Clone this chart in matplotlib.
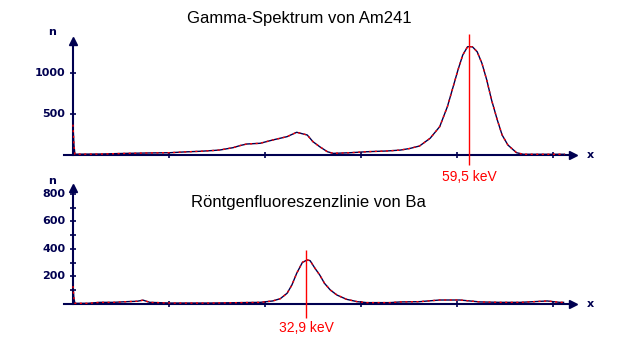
import numpy as np
import matplotlib.pyplot as plt

NAVY = '#000050'
RED = '#ff0000'

# Am241 gamma spectrum: channel number vs. counts
am_channel = [0, 1, 2, 28, 56, 80, 101, 117, 132, 146, 153, 167, 174, 181, 195,
              208, 223, 233, 244, 250, 257, 265, 271, 289, 306, 327, 341, 351,
              361, 372, 382, 390, 396, 401, 406, 411, 416, 421, 426, 431, 436,
              442, 447, 453, 462, 469, 494, 512]
am_counts = [370, 120, 10, 12, 20, 25, 28, 38, 45, 55, 61, 90, 115, 134, 143,
             183, 224, 277, 244, 162, 101, 40, 20, 28, 40, 49, 60, 80,
             110, 204, 346, 590, 833, 1037, 1220, 1321, 1321, 1260, 1118, 915, 671,
             427, 244, 122, 28, 9, 9, 9]
am_peak_channel = 412.5
am_peak_label = '59,5 keV'

# Ba X-ray fluorescence spectrum
ba_channel = [0, 1, 2, 15, 28, 42, 56, 67, 73, 80, 101, 143, 174, 195, 208,
              216, 223, 228, 233, 239, 244, 247, 252, 257, 262, 268, 275, 285,
              296, 306, 330, 341, 361, 382, 403, 424, 445, 466, 494, 507, 511]
ba_counts = [130, 40, 5, 5, 12, 12, 17, 20, 28, 12, 7, 7, 10, 12, 22,
             39, 78, 138, 223, 303, 320, 315, 260, 211, 150, 102, 65, 34,
             17, 10, 10, 15, 17, 29, 29, 15, 12, 12, 22, 12, 12]
ba_peak_channel = 242.7
ba_peak_label = '32,9 keV'

x_ticks = [100, 200, 300, 400, 500]
top_major = [500, 1000]
bottom_major = [200, 400, 600, 800]
bottom_minor = [100, 300, 500, 700]

fig = plt.figure(figsize=(6.4, 3.5), dpi=100)
W, H = 640, 350


def make_axes(top_px, bottom_px, ylim):
    ax = fig.add_axes([60 / W, 1 - bottom_px / H, 540 / W, (bottom_px - top_px) / H])
    ax.set_xlim(-13.54, 548.96)
    ax.set_ylim(*ylim)
    ax.set_axis_off()
    return ax


def draw_frame(ax, y_top, major, minor):
    # x axis with arrow head and "x" label
    ax.plot([-9.4, 520], [0, 0], color=NAVY, lw=1.5, clip_on=False, zorder=3)
    ax.plot([521], [0], marker='>', ms=6, color=NAVY, clip_on=False, zorder=3)
    ax.text(539, 0, 'x', color=NAVY, fontsize=8, fontweight='bold',
            ha='center', va='center')
    ax.plot(x_ticks, [0] * len(x_ticks), ls='none', marker='|', ms=5, mew=1.2,
            color=NAVY, clip_on=False, zorder=3)
    # y axis
    ax.plot([0, 0], [0, y_top], color=NAVY, lw=1.5, clip_on=False, zorder=3)
    ax.plot([0], [y_top], marker='^', ms=6, color=NAVY, clip_on=False, zorder=3)
    ticks = major + minor
    ax.plot([0] * len(ticks), ticks, ls='none', marker='_', ms=5, mew=1.2,
            color=NAVY, clip_on=False, zorder=3)
    for v in major:
        ax.text(-8, v, str(v), color=NAVY, fontsize=8, fontweight='bold',
                ha='right', va='center')


def draw_spectrum(ax, ch, counts):
    # navy trace with red data dots running along it
    ax.plot(ch, counts, color=NAVY, lw=1.0, clip_on=False, zorder=4)
    ax.plot(ch, counts, color=RED, lw=1.0, dashes=(1.5, 2.5), clip_on=False, zorder=5)


# Top: gamma spectrum of Am241
ax1 = make_axes(30, 170, (-183, 1525))
draw_frame(ax1, 1390, top_major, [])
draw_spectrum(ax1, am_channel, am_counts)
ax1.vlines(am_peak_channel, -122, 1476, color=RED, lw=1, clip_on=False, zorder=6)
ax1.text(am_peak_channel, -268, am_peak_label, color=RED, fontsize=10,
         family='Liberation Sans', ha='center', va='center')
ax1.text(-22, 1500, 'n', color=NAVY, fontsize=8, fontweight='bold',
         ha='center', va='center')

# Bottom: Ba X-ray fluorescence line
ax2 = make_axes(185, 330, (-189, 865))
draw_frame(ax2, 843, bottom_major, bottom_minor)
draw_spectrum(ax2, ba_channel, ba_counts)
ax2.vlines(ba_peak_channel, -102, 393, color=RED, lw=1, clip_on=False, zorder=6)
ax2.text(ba_peak_channel, -175, ba_peak_label, color=RED, fontsize=10,
         family='Liberation Sans', ha='center', va='center')
ax2.text(-22, 895, 'n', color=NAVY, fontsize=8, fontweight='bold',
         ha='center', va='center')

fig.text(299 / W, 1 - 19 / H, 'Gamma-Spektrum von Am241', fontsize=12,
         family='Liberation Sans', ha='center', va='center')
fig.text(308 / W, 1 - 202 / H, 'Röntgenfluoreszenzlinie von Ba', fontsize=12,
         family='Liberation Sans', ha='center', va='center')

fig.savefig('out.png', dpi=100)
